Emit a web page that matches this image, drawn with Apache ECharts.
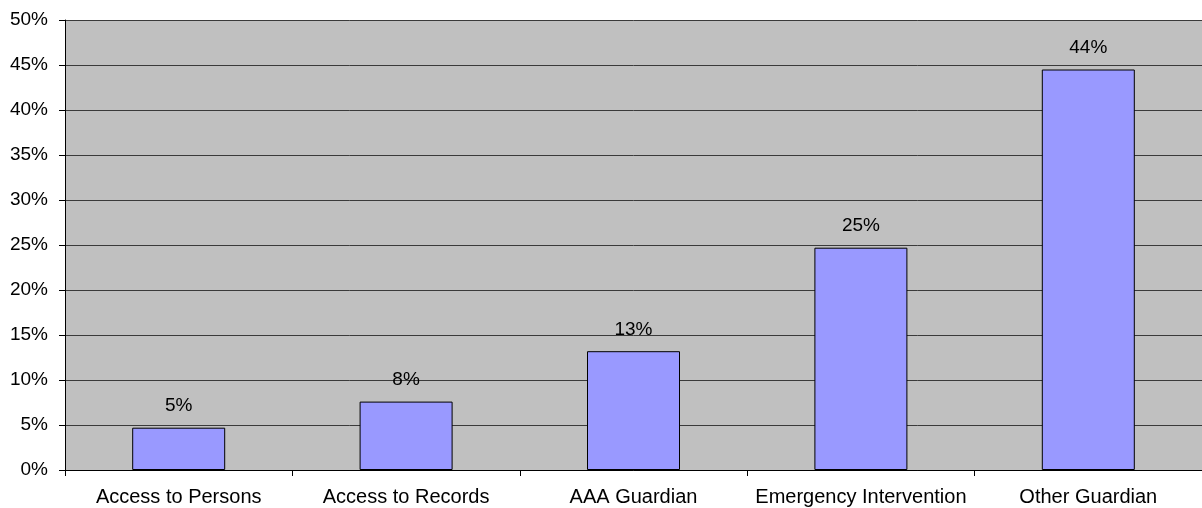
<!DOCTYPE html>
<html><head><meta charset="utf-8">
<script src="https://cdn.jsdelivr.net/npm/echarts@6/dist/echarts.min.js"></script>
<style>html,body{margin:0;padding:0;background:#fff}#c{width:1202px;height:508px}</style>
</head><body><div id="c"></div>
<script>
const categories = ["Access to Persons", "Access to Records", "AAA Guardian", "Emergency Intervention", "Other Guardian"];
const values = [4.7, 7.6, 13.2, 24.7, 44.5];
const labels = ["5%", "8%", "13%", "25%", "44%"];
const FONT = 'Liberation Sans, Arial, sans-serif';
const chart = echarts.init(document.getElementById('c'));
chart.setOption({
  animation: false,
  grid: {left: 65, top: 20, width: 1142, height: 450, show: true, backgroundColor: '#c0c0c0', borderWidth: 0},
  xAxis: {
    type: 'category', data: categories,
    axisLine: {lineStyle: {color: '#000', width: 1}},
    axisTick: {show: true, interval: 0, length: 6, lineStyle: {color: '#000'}},
    axisLabel: {interval: 0, color: '#000', fontFamily: FONT, fontSize: 20, margin: 17}
  },
  yAxis: {
    type: 'value', min: 0, max: 50, interval: 5,
    axisLine: {show: true, lineStyle: {color: '#000', width: 1}},
    axisTick: {show: true, length: 6, lineStyle: {color: '#000'}},
    axisLabel: {color: '#000', fontFamily: FONT, fontSize: 19, margin: 17, formatter: '{value}%'},
    splitLine: {show: true, lineStyle: {color: '#3a3a3a', width: 1}}
  },
  series: [{
    type: 'bar', data: values, barWidth: 93,
    itemStyle: {color: '#9999ff', borderColor: '#000', borderWidth: 1},
    label: {show: true, position: 'top', distance: 12, color: '#000', fontFamily: FONT, fontSize: 19,
      formatter: p => labels[p.dataIndex]}
  }]
});
</script></body></html>
